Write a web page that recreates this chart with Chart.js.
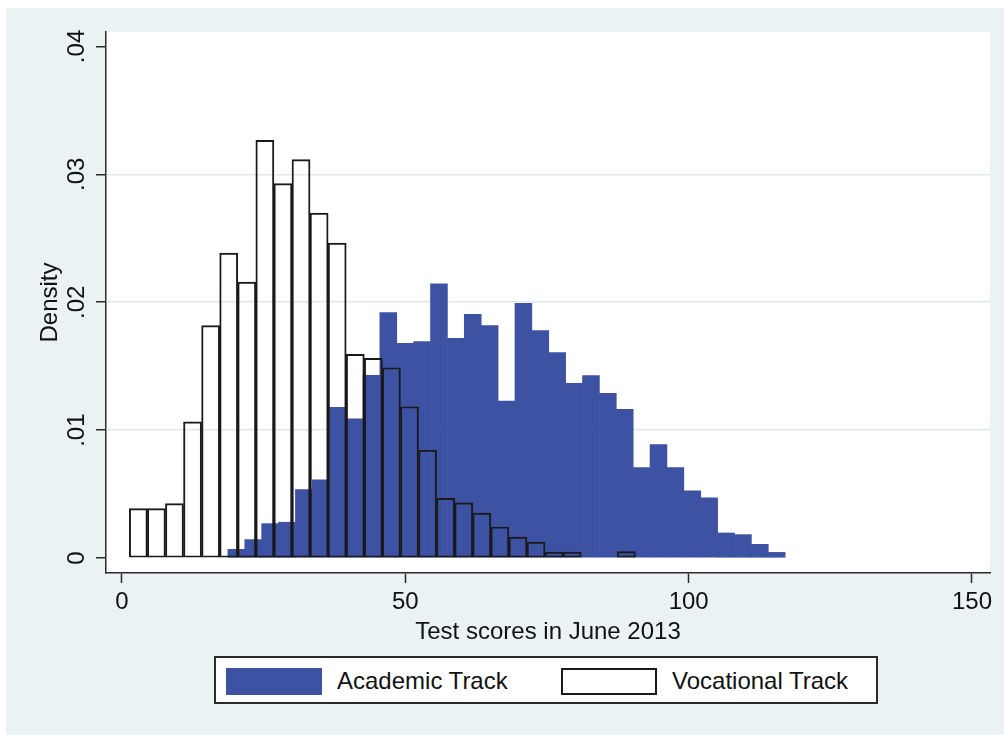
<!DOCTYPE html>
<html>
<head>
<meta charset="utf-8">
<script src="https://cdn.jsdelivr.net/npm/chart.js@4/dist/chart.umd.min.js"></script>
<style>
  html, body { margin: 0; padding: 0; background: #ffffff; }
  #wrap { position: relative; width: 1004px; height: 735px; }
  #chart { position: absolute; left: 0; top: 0; }
  #legend {
    position: absolute; left: 214px; top: 656px; width: 664px; height: 48px;
    box-sizing: border-box; border: 2px solid #2b2b2b; background: #ffffff;
    font-family: 'Liberation Sans', Arial, sans-serif; font-size: 24px; color: #111;
  }
  .item { position: absolute; top: 0; height: 46px; display: flex; align-items: center; }
  .swatch { width: 96px; height: 27px; box-sizing: border-box; margin-right: 15px; }
</style>
</head>
<body>
<div id="wrap">
  <canvas id="chart" width="1004" height="735"></canvas>
  <div id="legend"></div>
</div>
<script>
// Axis ticks
const X_TICKS = [0, 50, 100, 150];
const Y_TICKS = [0, 0.01, 0.02, 0.03, 0.04];

// Academic track histogram: first bin edge, bin width, densities
const ACAD_START = 18.69;
const ACAD_WIDTH = 2.98;
const ACAD_DENSITY = [
  0.00068, 0.00144, 0.00269, 0.00280, 0.00535, 0.00612, 0.01178, 0.01089,
  0.01428, 0.01919, 0.01679, 0.01692, 0.02144, 0.01718, 0.01906, 0.01817,
  0.01227, 0.01992, 0.01778, 0.01606, 0.01366, 0.01426, 0.01287, 0.01162,
  0.00708, 0.00888, 0.00708, 0.00525, 0.00470, 0.00196, 0.00183, 0.00107,
  0.00044
];

// Vocational track histogram
const VOC_START = 1.29;
const VOC_WIDTH = 3.19;
const VOC_DENSITY = [
  0.00386, 0.00386, 0.00426, 0.01065, 0.01817, 0.02384, 0.02157, 0.03266,
  0.02927, 0.03115, 0.02697, 0.02462, 0.01593, 0.01561, 0.01488, 0.01183,
  0.00843, 0.00467, 0.00431, 0.00352, 0.00243, 0.00164, 0.00125, 0.00047,
  0.00047, 0, 0, 0.00050
];

const ACAD_COLOR = '#3d52a2';
const FONT = 'Liberation Sans';

function binPoints(start, width, heights) {
  return heights.map((h, i) => ({ x: start + (i + 0.5) * width, y: h === 0 ? null : h }));
}

function fmtDensity(v) {
  if (v === 0) return '0';
  return v.toFixed(2).replace(/^0/, '');
}

// Stata-like background: white frame, bluish-grey graph region, white plot region
const backdrop = {
  id: 'backdrop',
  beforeDraw(chart) {
    const { ctx, chartArea: a } = chart;
    ctx.save();
    ctx.fillStyle = '#ffffff';
    ctx.fillRect(0, 0, chart.width, chart.height);
    ctx.fillStyle = '#eaf2f3';
    ctx.fillRect(6, 8, chart.width - 6, chart.height - 8);
    ctx.fillStyle = '#ffffff';
    ctx.fillRect(a.left, a.top, a.right - a.left, a.bottom - a.top);
    ctx.restore();
  }
};

const xCommon = {
  type: 'linear',
  min: -2.82,
  max: 153.18,
  offset: false,
  afterBuildTicks: (s) => { s.ticks = X_TICKS.map(v => ({ value: v })); }
};

const chart = new Chart(document.getElementById('chart'), {
  type: 'bar',
  data: {
    datasets: [
      {
        label: 'Academic Track',
        data: binPoints(ACAD_START, ACAD_WIDTH, ACAD_DENSITY),
        backgroundColor: ACAD_COLOR,
        borderWidth: 0,
        xAxisID: 'x',
        order: 1
      },
      {
        label: 'Vocational Track',
        data: binPoints(VOC_START, VOC_WIDTH, VOC_DENSITY),
        backgroundColor: 'rgba(0,0,0,0)',
        borderColor: '#1a1a1a',
        borderWidth: 1.3,
        borderSkipped: false,
        xAxisID: 'x2',
        order: 0
      }
    ]
  },
  options: {
    responsive: false,
    animation: false,
    barPercentage: 1,
    categoryPercentage: 1,
    grouped: false,
    layout: { padding: { left: 0, top: 32, right: 14, bottom: 82 } },
    plugins: { legend: { display: false }, tooltip: { enabled: false } },
    scales: {
      x: Object.assign({}, xCommon, {
        position: 'bottom',
        afterFit: (s) => { s.height = 80; },
        border: { display: true, color: '#2b2b2b', width: 1.5 },
        grid: { display: true, drawOnChartArea: false, offset: false, tickLength: 10, tickColor: '#2b2b2b', tickWidth: 1.5 },
        ticks: { padding: 5, color: '#111', font: { family: FONT, size: 24 } },
        title: { display: true, text: 'Test scores in June 2013', color: '#111',
                 font: { family: FONT, size: 24 }, padding: { top: 0, bottom: 6 } }
      }),
      x2: Object.assign({}, xCommon, { display: false, grid: { offset: false } }),
      y: {
        type: 'linear',
        min: -0.00117,
        max: 0.04113,
        afterBuildTicks: (s) => { s.ticks = Y_TICKS.map(v => ({ value: v })); },
        afterFit: (s) => { s.width = 106; },
        border: { display: true, color: '#2b2b2b', width: 1.5 },
        grid: {
          color: (c) => (c.tick && c.tick.value > 0 && c.tick.value < 0.04) ? '#dfe9ec' : 'rgba(0,0,0,0)',
          lineWidth: 1.5,
          tickLength: 10,
          tickColor: '#2b2b2b',
          tickWidth: 1.5
        },
        ticks: {
          callback: (v) => fmtDensity(v),
          minRotation: 90,
          maxRotation: 90,
          crossAlign: 'center',
          padding: 2,
          color: '#111',
          font: { family: FONT, size: 24 }
        },
        title: { display: true, text: 'Density', color: '#111',
                 font: { family: FONT, size: 24 }, padding: { top: 36, bottom: 0 } }
      }
    }
  },
  plugins: [backdrop]
});

// HTML legend built from the datasets
const legendEl = document.getElementById('legend');
const itemLeft = [10, 345];
chart.data.datasets.forEach((ds, i) => {
  const item = document.createElement('div');
  item.className = 'item';
  item.style.left = itemLeft[i] + 'px';
  const sw = document.createElement('div');
  sw.className = 'swatch';
  if (ds.borderWidth) {
    sw.style.background = '#ffffff';
    sw.style.border = '2px solid ' + ds.borderColor;
  } else {
    sw.style.background = ds.backgroundColor;
  }
  const tx = document.createElement('span');
  tx.textContent = ds.label;
  item.appendChild(sw);
  item.appendChild(tx);
  legendEl.appendChild(item);
});
</script>
</body>
</html>
